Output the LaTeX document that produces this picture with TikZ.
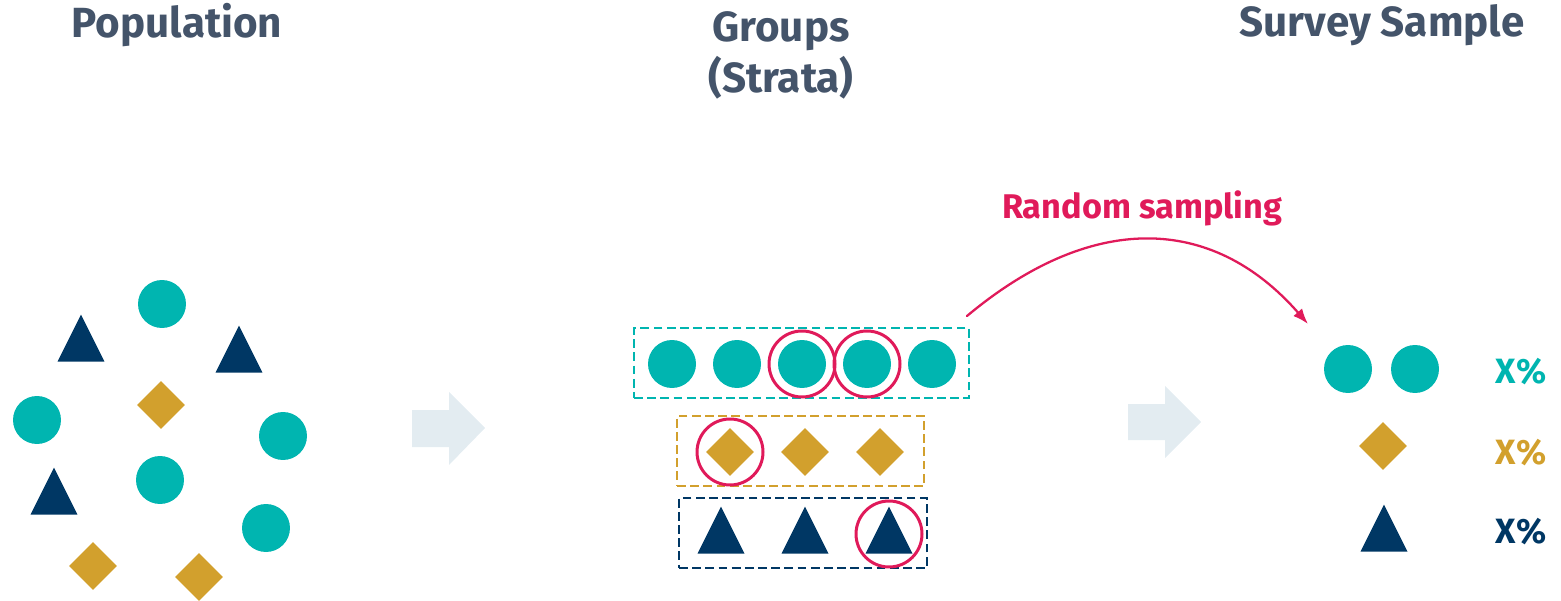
\documentclass[tikz,border=0pt]{standalone}
\usepackage{fontspec}
\setmainfont{Fira Sans}
\usetikzlibrary{arrows.meta,shapes.geometric,calc}
\definecolor{popteal}{HTML}{00B5B0}
\definecolor{popgold}{HTML}{D2A02D}
\definecolor{popnavy}{HTML}{003764}
\definecolor{headgray}{HTML}{44546A}
\definecolor{pickred}{HTML}{E01A5A}
\definecolor{flowgray}{HTML}{E3ECF1}

\begin{document}
\begin{tikzpicture}[x=0.02cm,y=-0.02cm,>=Latex,line cap=round,
  dot/.style={circle,fill=popteal,minimum size=0.96cm,inner sep=0pt},
  gem/.style={diamond,fill=popgold,minimum size=0.96cm,inner sep=0pt},
  tri/.style={isosceles triangle,isosceles triangle stretches,shape border rotate=90,
    fill=popnavy,minimum width=0.94cm,minimum height=0.94cm,inner sep=0pt,anchor=lower side},
  pick/.style={circle,draw=pickred,line width=1.7pt,minimum size=1.32cm,inner sep=0pt},
  stratum/.style={draw,line width=1.1pt,dash pattern=on 5pt off 2.5pt,line cap=butt,
    minimum height=1.40cm,inner sep=0pt},
  heading/.style={font=\fontsize{24}{29}\selectfont\bfseries,text=headgray,align=center},
  pct/.style={font=\fontsize{20}{24}\selectfont\bfseries}]
  \useasboundingbox (0,0) rectangle (1561,601);

  % headings
  \node[heading] (hpop) at (177,25) {Population};
  \node[heading,anchor=north] (hgrp) at (781,5) {Groups\\(Strata)};
  \node[heading] (hsmp) at (1382,25) {Survey Sample};

  % population
  \node[dot] (p1) at (162,304) {};
  \node[dot] (p2) at (37,420) {};
  \node[dot] (p3) at (283,436) {};
  \node[dot] (p4) at (160,480) {};
  \node[dot] (p5) at (266,528) {};
  \node[gem] (p6) at (161,405) {};
  \node[gem] (p7) at (93,566) {};
  \node[gem] (p8) at (199,577) {};
  \node[tri] (p9) at (81,362) {};
  \node[tri] (p10) at (239,373) {};
  \node[tri] (p11) at (54,515) {};

  % flow arrows
  \fill[flowgray] (412,410) -- (449,410) -- (449,392) -- (485,428) -- (449,465) -- (449,447) -- (412,447) -- cycle;
  \fill[flowgray] (1128,404) -- (1165,404) -- (1165,386) -- (1201,422) -- (1165,458) -- (1165,440) -- (1128,440) -- cycle;

  % strata
  \node[stratum,draw=popteal,minimum width=6.70cm] (tealbox) at (801.5,363) {};
  \node[stratum,draw=popgold,minimum width=4.94cm] (goldbox) at (800.5,451) {};
  \node[stratum,draw=popnavy,minimum width=4.96cm] (navybox) at (803,533) {};
  \foreach \x [count=\i] in {672,737,802,867,932}
    \node[dot] (s\i) at (\x,364) {};
  \foreach \x [count=\i] in {730,805,880}
    \node[gem] (g\i) at (\x,452) {};
  \foreach \x [count=\i] in {721,805,889}
    \node[tri] (t\i) at (\x,554) {};
  \node[pick] (r1) at (s3) {};
  \node[pick] (r2) at (s4) {};
  \node[pick] (r3) at (g1) {};
  \node[pick] (r4) at (889,534) {};

  % random sampling
  \node[font=\fontsize{19.5}{24}\selectfont\bfseries,text=pickred] (rlabel) at (1142,208) {Random sampling};
  \coordinate (sampend) at (1308,324);
  \draw[->,pickred,line width=1.3pt] ([shift={(-3,-11)}]tealbox.north east)
    .. controls (1090,213) and (1211,213) .. (sampend);

  % sample
  \node[dot] (c1) at (1348,369) {};
  \node[dot] (c2) at (1415,369) {};
  \node[gem] (c3) at (1383,446) {};
  \node[tri] (c4) at (1384,552) {};
  \node[pct,text=popteal] (x1) at (1521,372) {X\%};
  \node[pct,text=popgold] (x2) at (1521,453) {X\%};
  \node[pct,text=popnavy] (x3) at (1521,532) {X\%};
\end{tikzpicture}
\end{document}
